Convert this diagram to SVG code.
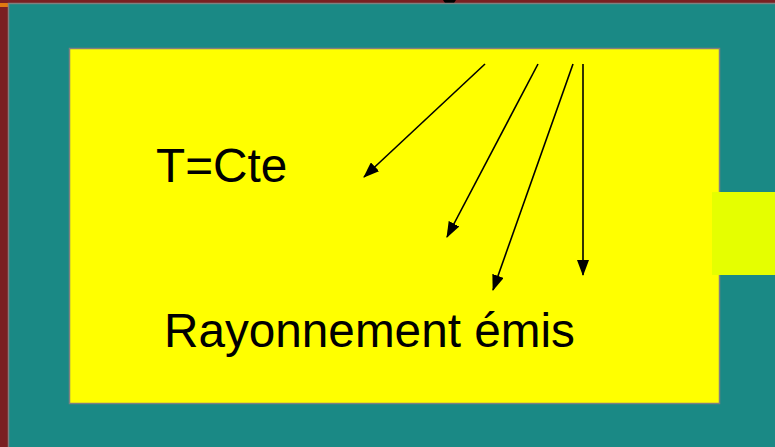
<svg xmlns="http://www.w3.org/2000/svg" width="775" height="447" viewBox="0 0 775 447">
  <style>
    .label { font-family: "Liberation Sans", Arial, sans-serif; font-size: 47.7px; fill: #000; }
    .ray { stroke: #000; stroke-width: 1.6; fill: none; marker-end: url(#head); }
  </style>
  <defs>
    <marker id="head" markerWidth="16" markerHeight="12" refX="15" refY="6" orient="auto" markerUnits="userSpaceOnUse">
      <path d="M0,0 L16,6 L0,12 Z" fill="#000"/>
    </marker>
  </defs>

  <!-- backdrop -->
  <rect x="0" y="0" width="775" height="447" fill="#7a1f22"/>
  <rect x="0" y="3" width="8" height="4" fill="#e07a10"/>
  <path d="M443,0 L456,0 L454,3 L445,3 Z" fill="#000"/>

  <!-- outer wall -->
  <g id="wall">
    <rect x="8.5" y="3.5" width="780" height="460" fill="#1a8985" stroke="#808080" stroke-width="1.5"/>
  </g>

  <!-- cavity -->
  <g id="cavity">
    <rect x="69.5" y="48.5" width="650" height="355" fill="#ffff00" stroke="#808080" stroke-width="1.5"/>
    <text class="label" x="156" y="182">T=Cte</text>
    <text class="label" x="164" y="347">Rayonnement émis</text>
  </g>

  <!-- opening -->
  <g id="opening">
    <rect x="712" y="192" width="63" height="83" fill="#e5ff00"/>
  </g>

  <!-- emitted rays -->
  <g id="connectors">
    <line class="ray" x1="485" y1="64" x2="364" y2="177"/>
    <line class="ray" x1="538" y1="64" x2="447" y2="237"/>
    <line class="ray" x1="573" y1="64" x2="493" y2="290"/>
    <line class="ray" x1="583" y1="64" x2="583" y2="275"/>
  </g>
</svg>
